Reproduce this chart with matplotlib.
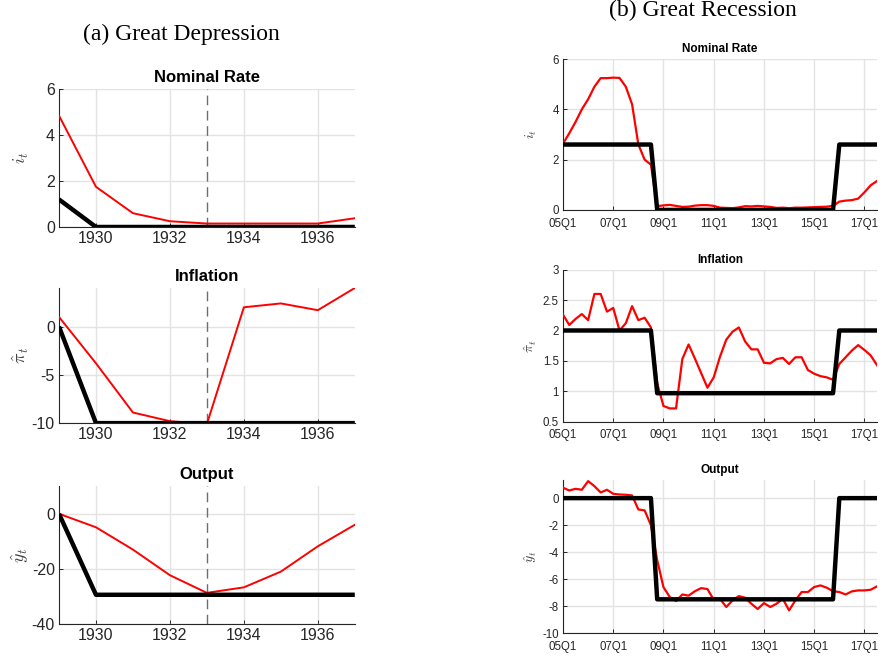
import matplotlib
matplotlib.use("Agg")
import matplotlib.pyplot as plt

plt.rcParams['font.family'] = ['Liberation Sans', 'DejaVu Sans']
plt.rcParams['mathtext.fontset'] = 'cm'
plt.rcParams['axes.unicode_minus'] = False

# Great Depression, annual
years = [1929, 1930, 1931, 1932, 1933, 1934, 1935, 1936, 1937]
gd_rate_data = [4.85, 1.75, 0.6, 0.25, 0.15, 0.15, 0.15, 0.15, 0.38]
gd_rate_model = [1.2, 0, 0, 0, 0, 0, 0, 0, 0]
gd_infl_data = [1.0, -3.8, -8.9, -9.8, -10.1, 2.0, 2.4, 1.7, 4.0]
gd_infl_model = [0, -10, -10, -10, -10, -10, -10, -10, -10]
gd_out_data = [0, -4.9, -13.0, -22.3, -28.7, -26.7, -21.0, -11.8, -4.0]
gd_out_model = [0, -29.4, -29.4, -29.4, -29.4, -29.4, -29.4, -29.4, -29.4]

# Great Recession, quarterly 2005Q1 - 2017Q3
quarters = list(range(51))
quarter_ticks = [0, 8, 16, 24, 32, 40, 48]
quarter_labels = ['05Q1', '07Q1', '09Q1', '11Q1', '13Q1', '15Q1', '17Q1']

gr_rate_data = [2.63, 3.05, 3.5, 4.0, 4.4, 4.9, 5.24, 5.24, 5.26, 5.25,
                4.9, 4.2, 2.6, 2.0, 1.8, 0.15, 0.18, 0.2, 0.16, 0.12,
                0.13, 0.17, 0.19, 0.19, 0.16, 0.09, 0.08, 0.07, 0.1, 0.15,
                0.14, 0.16, 0.14, 0.12, 0.08, 0.09, 0.07, 0.09, 0.09, 0.1,
                0.11, 0.12, 0.13, 0.16, 0.33, 0.37, 0.39, 0.45, 0.7, 0.98, 1.15]
gr_rate_model = [2.6] * 15 + [0] * 29 + [2.6] * 7

gr_infl_data = [2.26, 2.09, 2.19, 2.27, 2.17, 2.6, 2.6, 2.31, 2.37, 2.0,
                2.12, 2.4, 2.17, 2.21, 2.05, 1.13, 0.76, 0.72, 0.72, 1.53,
                1.77, 1.54, 1.3, 1.06, 1.23, 1.57, 1.85, 1.98, 2.05, 1.82,
                1.69, 1.69, 1.47, 1.46, 1.53, 1.55, 1.45, 1.56, 1.56, 1.35,
                1.29, 1.25, 1.23, 1.19, 1.45, 1.56, 1.67, 1.76, 1.68, 1.59, 1.43]
gr_infl_model = [2.0] * 15 + [0.97] * 29 + [2.0] * 7

gr_out_data = [0.77, 0.57, 0.69, 0.62, 1.26, 0.89, 0.42, 0.62, 0.32, 0.27,
               0.25, 0.2, -0.84, -0.91, -2.0, -4.6, -6.6, -7.33, -7.63, -7.14,
               -7.23, -6.9, -6.67, -6.74, -7.53, -7.46, -8.07, -7.58, -7.26, -7.38,
               -7.83, -8.22, -7.78, -8.07, -7.83, -7.46, -8.32, -7.58, -6.96, -6.96,
               -6.59, -6.47, -6.64, -6.9, -6.96, -7.14, -6.91, -6.84, -6.84, -6.79, -6.54]
gr_out_model = [0.0] * 15 + [-7.5] * 29 + [0.0] * 7

AX_COLOR = '#262626'
GRID_COLOR = '#e3e3e3'


def style_axes(ax, fs):
    for side in ('top', 'right'):
        ax.spines[side].set_visible(False)
    for side in ('left', 'bottom'):
        ax.spines[side].set_color(AX_COLOR)
        ax.spines[side].set_linewidth(0.8)
    ax.tick_params(direction='in', length=3, width=0.7, colors=AX_COLOR,
                   labelsize=fs, pad=3)
    ax.grid(True, color=GRID_COLOR, linewidth=1.0)
    ax.set_axisbelow(True)


fig = plt.figure(figsize=(8.83, 6.56), dpi=100)

# left column: Great Depression
left_specs = [
    ('Nominal Rate', r'$i_t$', gd_rate_data, gd_rate_model, (0, 6), [0, 2, 4, 6],
     [0.0668, 0.654, 0.335, 0.210]),
    ('Inflation', r'$\hat{\pi}_t$', gd_infl_data, gd_infl_model, (-10, 4), [-10, -5, 0],
     [0.0668, 0.355, 0.335, 0.206]),
    ('Output', r'$\hat{y}_t$', gd_out_data, gd_out_model, (-40, 10), [-40, -20, 0],
     [0.0668, 0.0488, 0.335, 0.210]),
]
for title, ylab, red, black, ylim, yticks, rect in left_specs:
    ax = fig.add_axes(rect)
    style_axes(ax, 11.5)
    ax.plot(years, red, color='red', linewidth=1.4, zorder=3)
    ax.plot(years, black, color='black', linewidth=3.2, zorder=4,
            solid_capstyle='butt')
    ax.axvline(1933, color='#6e6e6e', linewidth=1.0, dashes=(7, 4), zorder=2)
    ax.set_xlim(1929, 1937)
    ax.set_ylim(*ylim)
    ax.set_xticks([1930, 1932, 1934, 1936])
    ax.set_yticks(yticks)
    ax.set_title(title, fontsize=12, fontweight='bold', pad=5)
    ax.set_ylabel(ylab, fontsize=13, color='#404040')
    ax.yaxis.set_label_coords(-0.095, 0.5)

# right column: Great Recession
right_specs = [
    ('Nominal Rate', r'$i_t$', gr_rate_data, gr_rate_model, (0, 6), [0, 2, 4, 6],
     [0.6376, 0.680, 0.3556, 0.230]),
    ('Inflation', r'$\hat{\pi}_t$', gr_infl_data, gr_infl_model, (0.5, 3),
     [0.5, 1, 1.5, 2, 2.5, 3], [0.6376, 0.357, 0.3556, 0.232]),
    ('Output', r'$\hat{y}_t$', gr_out_data, gr_out_model, (-10, 1.33),
     [-10, -8, -6, -4, -2, 0], [0.6376, 0.035, 0.3556, 0.233]),
]
for title, ylab, red, black, ylim, yticks, rect in right_specs:
    ax = fig.add_axes(rect)
    style_axes(ax, 8.3)
    ax.tick_params(axis='x', pad=5.5)
    ax.tick_params(axis='y', pad=3)
    ax.plot(quarters, red, color='red', linewidth=1.6, zorder=3)
    ax.plot(quarters, black, color='black', linewidth=3.2, zorder=4)
    ax.set_xlim(0, 50)
    ax.set_ylim(*ylim)
    ax.set_xticks(quarter_ticks)
    ax.set_xticklabels(quarter_labels)
    ax.set_yticks(yticks)
    ax.set_yticklabels([f'{v:g}' for v in yticks])
    ax.set_title(title, fontsize=8.5, fontweight='bold', pad=5)
    ax.set_ylabel(ylab, fontsize=10, color='#404040')
    ax.yaxis.set_label_coords(-0.075, 0.5)

fig.text(0.205, 0.947, '(a) Great Depression', ha='center', va='center',
         family='Liberation Serif', fontsize=17)
fig.text(0.796, 0.984, '(b) Great Recession', ha='center', va='center',
         family='Liberation Serif', fontsize=17)

fig.savefig('out.png', dpi=100)
